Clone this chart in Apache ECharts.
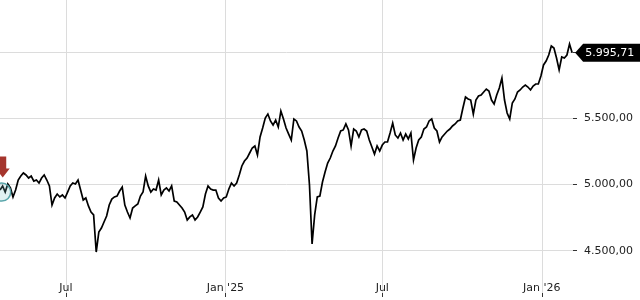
<!DOCTYPE html>
<html><head><meta charset="utf-8">
<script src="https://cdn.jsdelivr.net/npm/echarts@6/dist/echarts.min.js"></script>
<style>html,body{margin:0;padding:0;background:#fff}#c{width:640px;height:300px}</style>
</head><body><div id="c"></div>
<script>
// Sampled closes, one every 3 calendar days starting 2024-04-16
const startDate = [2024, 3, 16];
const stepDays = 3;
const closesA = [4958,4989,4943,5004,4974,4906,4958,5034,5064,5087,5072,5049,5064,5026,5034,5011,5049,5072,5034,4989,
  4845,4898,4928,4906,4921,4898,4943,4989,5011,5004,5034,4958,4883,4898,4838,4792,4770,4490,4641,4671,
  4717,4762,4845,4890,4906,4913,4951,4981,4845,4792,4747,4822,4838,4853,4913];
const closesB = [4943,5064,4989,4943,4966,4958,5034,4921,4958,4974,4951,4989,4875,4868,4845,4822,4792,4732,4755,4770,
  4732,4755,4792,4830,4928,4989,4966,4958,4958,4898,4875,4898,4906,4966,5011,4989,5011,5072,5140,5177,
  5200,5238,5276,5291,5223,5359,5427,5502,5532,5480,5449,5487,5434,5555,5495];
const closesC = [5427,5381,5336,5495,5480,5434,5404,5336,5253,4996,4551,4770,4906,4913,5019,5094,5162,5200,5253,5291,
  5351,5404,5412,5457,5412,5291,5419,5404,5359,5412,5419,5404,5336,5283,5230,5291,5253,5298,5321,5321,
  5389,5464,5374,5351,5389,5336,5381,5344,5389,5185,5276,5336,5359,5419,5434];
const closesD = [5480,5495,5427,5404,5321,5359,5381,5404,5419,5442,5457,5480,5487,5578,5661,5646,5638,5532,5638,5668,
  5676,5699,5721,5706,5638,5608,5676,5729,5804,5638,5540,5495,5616,5646,5699,5714,5736,5751,5736,5714,
  5744,5759,5759,5820,5903,5933,5978,6046,6031,5955,5865,5963,5955,5978,6061];
const lastClose = 5995.71;

const xTickDates = ['2024-07-01', '2025-01-01', '2025-07-01', '2026-01-01'];
const yTicks = [4500, 5000, 5500, 6000];
const eventDates = ['2024-04-18'];
const eventValues = [4943];

function parseD(s){const p=s.split('-');return +new Date(+p[0],+p[1]-1,+p[2]);}
function de(v){const s=Number(v).toFixed(2).split('.');return s[0].replace(/\B(?=(\d{3})+(?!\d))/g,'.')+','+s[1];}

const closes = closesA.concat(closesB, closesC, closesD, [lastClose]);
const data = closes.map((v,i)=>[+new Date(startDate[0], startDate[1], startDate[2] + i*stepDays), v]);
const lastDate = data[data.length-1][0];
const xTicks = xTickDates.map(parseD);
const FONT = 'DejaVu Sans';

const chart = echarts.init(document.getElementById('c'), null, {renderer:'canvas'});
chart.setOption({
  animation:false,
  backgroundColor:'#fff',
  grid:{left:0,right:67,top:0,bottom:7,containLabel:false,outerBoundsMode:'none'},
  xAxis:{
    type:'value', min:parseD('2024-04-16'), max:parseD('2026-02-06'),
    axisLine:{show:false},
    axisTick:{show:true,length:4,lineStyle:{color:'#333'},customValues:xTicks},
    axisLabel:{inside:true,margin:-1,customValues:xTicks,color:'#222',fontFamily:FONT,fontSize:11,hideOverlap:false,
      showMinLabel:true,showMaxLabel:true,
      formatter:function(v){const d=new Date(v);return d.getMonth()===6?'Jul':"Jan '"+String(d.getFullYear()).slice(2);}},
    splitLine:{show:true,lineStyle:{color:'#dcdcdc',width:1}}
  },
  yAxis:{
    type:'value', position:'right', min:4180.5, max:6393.5,
    axisLine:{show:false},
    axisTick:{show:true,length:4,lineStyle:{color:'#333'},customValues:yTicks},
    axisLabel:{margin:11,customValues:yTicks,color:'#222',fontFamily:FONT,fontSize:11,formatter:de},
    splitLine:{show:true,lineStyle:{color:'#dcdcdc',width:1}}
  },
  series:[{
    type:'line', data:data, symbol:'none', showSymbol:false, clip:true, z:3,
    lineStyle:{color:'#000',width:1.7,join:'miter'},
    markPoint:{
      silent:true, animation:false,
      data:[
        {coord:[parseD(eventDates[0]), eventValues[0]], symbol:'circle', symbolSize:18,
         itemStyle:{color:'rgba(120,190,195,0.22)',borderColor:'#5aa6ab',borderWidth:1.5}, label:{show:false}},
        {coord:[parseD(eventDates[0]), eventValues[0]], symbol:'path://M3.5,0L10.5,0L10.5,12L14,12L7,21L0,12L3.5,12Z',
         symbolSize:[14,21], symbolOffset:[1,-25], itemStyle:{color:'#a5352d'}, label:{show:false}},
        {coord:[lastDate, lastClose], value:lastClose, symbol:'path://M0,9L8,0L65,0L65,18L8,18Z',
         symbolSize:[65,18], symbolOffset:[35.5,0], itemStyle:{color:'#000'},
         label:{show:true,position:'inside',formatter:de(lastClose),color:'#fff',fontSize:11,fontFamily:FONT,offset:[2,0]}}
      ]
    }
  }]
});
</script></body></html>
